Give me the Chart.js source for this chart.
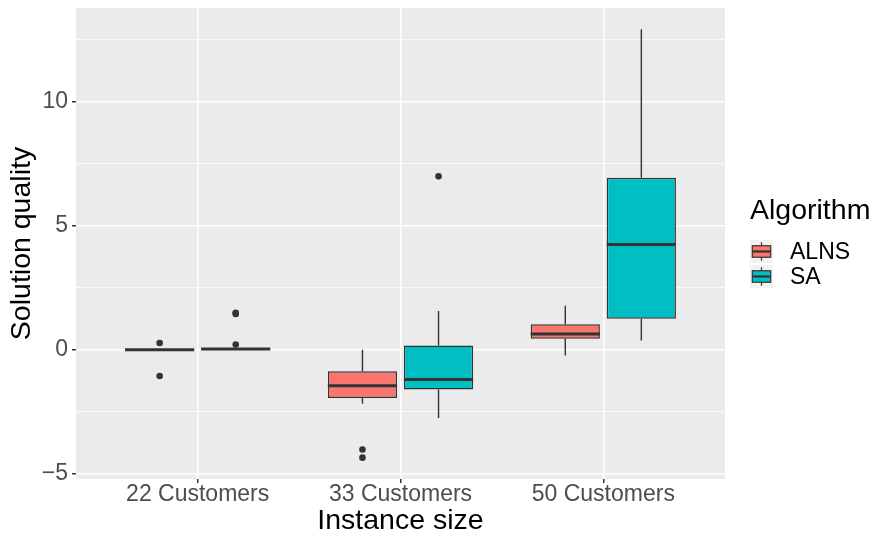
<!DOCTYPE html>
<html>
<head>
<meta charset="utf-8">
<script src="https://cdn.jsdelivr.net/npm/chart.js@4/dist/chart.umd.min.js"></script>
<style>
  body { margin: 0; background: #ffffff; }
  #wrap { width: 875px; height: 538px; }
</style>
</head>
<body>
<div id="wrap"><canvas id="chart" width="875" height="538"></canvas></div>
<script>
// boxplot: solution quality per instance size, ALNS vs SA

const categories = ['22 Customers', '33 Customers', '50 Customers'];
const algorithms = ['ALNS', 'SA'];
const colors = ['#F8766D', '#00BFC4'];

// ALNS box stats, one value per category
const alnsMin = [0, -2.18, -0.24];
const alnsQ1 = [0, -1.95, 0.44];
const alnsMedian = [0, -1.45, 0.63];
const alnsQ3 = [0, -0.87, 1.02];
const alnsMax = [0, 0.0, 1.77];
const alnsOutliers = [[0.27, -1.06], [-4.02, -4.35], []];

// SA box stats
const saMin = [0, -2.75, 0.37];
const saQ1 = [0, -1.61, 1.24];
const saMedian = [0.03, -1.2, 4.23];
const saQ3 = [0.05, 0.17, 6.92];
const saMax = [0.05, 1.56, 12.9];
const saOutliers = [[1.48, 1.44, 0.21], [6.98], []];

const yMajorTicks = [-5, 0, 5, 10];
const yMinorTicks = [-2.5, 2.5, 7.5, 12.5];

const FONT = "'Liberation Sans', Arial, Helvetica, sans-serif";

function makeDataset(label, color, q1, q3, min, median, max, outliers) {
    return {
        label: label,
        data: categories.map((c, i) => ({ x: i + 1, y: [q1[i], q3[i]] })),
        backgroundColor: color,
        borderColor: '#333333',
        borderWidth: 1.5,
        borderSkipped: false,
        stats: { q1, q3, min, median, max, outliers },
    };
}

// grey panel behind the grid
const panelBg = {
    id: 'panelBg',
    beforeDraw(chart) {
        const { ctx, chartArea: a } = chart;
        ctx.save();
        ctx.fillStyle = '#EBEBEB';
        ctx.fillRect(a.left, a.top, a.right - a.left, a.bottom - a.top);
        ctx.restore();
    },
};

// whiskers, medians and outlier dots on top of the floating bars
const boxParts = {
    id: 'boxParts',
    afterDatasetsDraw(chart) {
        const ctx = chart.ctx;
        const y = chart.scales.y;
        chart.data.datasets.forEach((ds, di) => {
            const s = ds.stats;
            chart.getDatasetMeta(di).data.forEach((bar, j) => {
                const { x, width } = bar.getProps(['x', 'width'], true);
                ctx.save();
                ctx.strokeStyle = '#333333';
                ctx.lineWidth = 1.4;
                ctx.beginPath();
                ctx.moveTo(x, y.getPixelForValue(s.q3[j]));
                ctx.lineTo(x, y.getPixelForValue(s.max[j]));
                ctx.moveTo(x, y.getPixelForValue(s.q1[j]));
                ctx.lineTo(x, y.getPixelForValue(s.min[j]));
                ctx.stroke();

                ctx.lineWidth = 3;
                ctx.beginPath();
                const my = y.getPixelForValue(s.median[j]);
                ctx.moveTo(x - width / 2, my);
                ctx.lineTo(x + width / 2, my);
                ctx.stroke();

                ctx.fillStyle = '#333333';
                s.outliers[j].forEach(v => {
                    ctx.beginPath();
                    ctx.arc(x, y.getPixelForValue(v), 3.3, 0, Math.PI * 2);
                    ctx.fill();
                });
                ctx.restore();
            });
        });
    },
};

// ggplot style legend on the right
const boxLegend = {
    id: 'boxLegend',
    afterDraw(chart) {
        const ctx = chart.ctx;
        const left = 750, keyTop = 240, key = 23;
        ctx.save();
        ctx.fillStyle = '#000000';
        ctx.font = '28.5px ' + FONT;
        ctx.textBaseline = 'alphabetic';
        ctx.fillText('Algorithm', left, 219);

        algorithms.forEach((name, i) => {
            const top = keyTop + i * (key + 2);
            ctx.fillStyle = '#F2F2F2';
            ctx.fillRect(left, top, key, key);
            const cx = left + key / 2;
            ctx.strokeStyle = '#333333';
            ctx.lineWidth = 1.2;
            ctx.beginPath();
            ctx.moveTo(cx, top + key * 0.1);
            ctx.lineTo(cx, top + key * 0.25);
            ctx.moveTo(cx, top + key * 0.75);
            ctx.lineTo(cx, top + key * 0.9);
            ctx.stroke();
            ctx.fillStyle = colors[i];
            ctx.fillRect(left + key * 0.1, top + key * 0.25, key * 0.8, key * 0.5);
            ctx.strokeRect(left + key * 0.1, top + key * 0.25, key * 0.8, key * 0.5);
            ctx.lineWidth = 2.2;
            ctx.beginPath();
            ctx.moveTo(left + key * 0.1, top + key / 2);
            ctx.lineTo(left + key * 0.9, top + key / 2);
            ctx.stroke();

            ctx.fillStyle = '#000000';
            ctx.font = '23px ' + FONT;
            ctx.textBaseline = 'middle';
            ctx.fillText(name, 790, top + key / 2 + 1);
        });
        ctx.restore();
    },
};

const isMajor = v => yMajorTicks.includes(v);

const ctx = document.getElementById('chart').getContext('2d');
const chart = new Chart(ctx, {
    type: 'bar',
    data: {
        datasets: [
            makeDataset(algorithms[0], colors[0], alnsQ1, alnsQ3, alnsMin, alnsMedian, alnsMax, alnsOutliers),
            makeDataset(algorithms[1], colors[1], saQ1, saQ3, saMin, saMedian, saMax, saOutliers),
        ],
    },
    options: {
        responsive: false,
        animation: false,
        events: [],
        categoryPercentage: 0.75,
        barPercentage: 0.91,
        layout: {
            padding: { left: 0, right: 150, top: 8, bottom: 0 },
        },
        plugins: {
            legend: { display: false },
            tooltip: { enabled: false },
        },
        scales: {
            x: {
                type: 'linear',
                min: 0.4,
                max: 3.6,
                offset: false,
                afterBuildTicks: s => { s.ticks = categories.map((c, i) => ({ value: i + 1 })); },
                afterFit: s => {
                    s.height = 59;
                    s.paddingLeft = 0;
                    s.paddingRight = 0;
                },
                border: { display: false },
                grid: {
                    offset: false,
                    color: '#FFFFFF',
                    lineWidth: 1.5,
                    tickColor: '#333333',
                    tickLength: 4,
                },
                ticks: {
                    callback: v => categories[v - 1],
                    color: '#4D4D4D',
                    font: { family: FONT, size: 23, lineHeight: 1 },
                    padding: 0,
                    maxRotation: 0,
                    autoSkip: false,
                },
                title: {
                    display: true,
                    text: 'Instance size',
                    color: '#000000',
                    font: { family: FONT, size: 28.5 },
                    padding: { top: 0, bottom: 0 },
                },
            },
            y: {
                min: -5.21,
                max: 13.76,
                afterBuildTicks: s => {
                    s.ticks = yMajorTicks.concat(yMinorTicks).sort((a, b) => a - b).map(v => ({ value: v }));
                },
                afterFit: s => {
                    s.width = 76;
                    s.paddingTop = 0;
                    s.paddingBottom = 0;
                },
                border: { display: false },
                grid: {
                    color: '#FFFFFF',
                    lineWidth: c => isMajor(c.tick.value) ? 1.5 : 0.75,
                    tickColor: c => isMajor(c.tick.value) ? '#333333' : 'rgba(0,0,0,0)',
                    tickLength: 4,
                },
                ticks: {
                    callback: v => isMajor(v) ? String(v).replace('-', '\u2212') : '',
                    color: '#4D4D4D',
                    font: { family: FONT, size: 23 },
                    padding: 4,
                    autoSkip: false,
                },
                title: {
                    display: true,
                    text: 'Solution quality',
                    color: '#000000',
                    font: { family: FONT, size: 28.5 },
                    padding: { top: 5, bottom: 0 },
                },
            },
        },
    },
    plugins: [panelBg, boxParts, boxLegend],
});
</script>
</body>
</html>
